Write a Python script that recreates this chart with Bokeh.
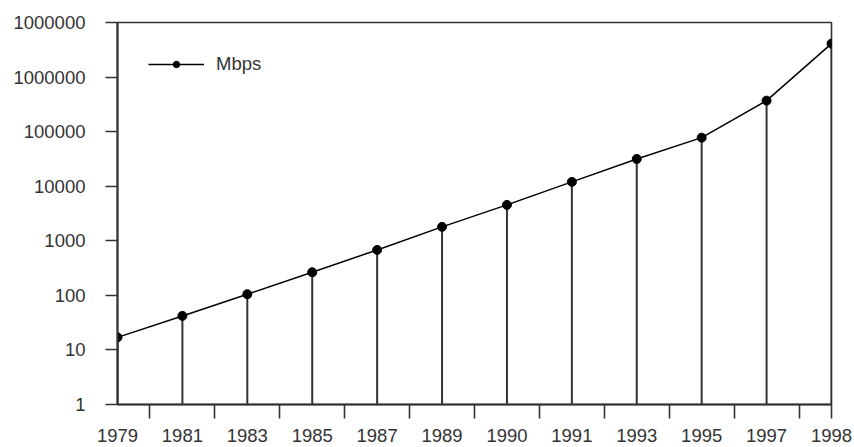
from bokeh.plotting import figure
from bokeh.models import Range1d, FixedTicker, CustomJSTickFormatter, Legend, LegendItem, ColumnDataSource
from bokeh.embed import file_html
from bokeh.resources import INLINE

years = ["1979", "1981", "1983", "1985", "1987", "1989", "1990", "1991", "1993", "1995", "1997", "1998"]
mbps = [17, 42, 105, 265, 680, 1800, 4550, 12000, 31600, 77600, 370000, 4100000]
y_ticks = [1, 10, 100, 1000, 10000, 100000, 1000000, 10000000]
y_tick_labels = ["1", "10", "100", "1000", "10000", "100000", "1000000", "1000000"]

FONT = "Liberation Sans"
FS = "18.5px"
INK = "#333333"

xs = list(range(len(years)))
y_base = y_ticks[0]
src = ColumnDataSource(dict(x=xs, y=mbps, base=[y_base] * len(xs)))

p = figure(width=854, height=447, output_backend="svg", toolbar_location=None,
           y_axis_type="log",
           x_range=Range1d(xs[0], xs[-1]), y_range=Range1d(y_ticks[0], y_ticks[-1]),
           min_border_left=117, min_border_right=23, min_border_top=22, min_border_bottom=43)
p.grid.visible = False
p.background_fill_color = "white"
p.border_fill_color = "white"
p.outline_line_color = INK
p.outline_line_width = 1.6

# drop lines
p.segment(x0="x", y0="base", x1="x", y1="y", source=src, line_color=INK, line_width=2)
ln = p.line(x="x", y="y", source=src, line_color="black", line_width=1.5)
sc = p.scatter(x="x", y="y", source=src, marker="circle", size=9, fill_color="black", line_color="black")

# axes
xa = p.xaxis[0]
minor = [i + 0.5 for i in xs[:-1]] + [xs[-1]]
xa.ticker = FixedTicker(ticks=xs, minor_ticks=minor)
xa.major_label_overrides = {i: lab for i, lab in zip(xs, years)}
xa.major_tick_out = 0
xa.major_tick_in = 0
xa.minor_tick_out = 14
xa.minor_tick_in = 0
xa.minor_tick_line_color = INK
xa.minor_tick_line_width = 1.6
xa.axis_line_color = INK
xa.axis_line_width = 2
xa.major_label_standoff = 10
xa.major_label_text_font = FONT
xa.major_label_text_font_size = FS
xa.major_label_text_color = INK

ya = p.yaxis[0]
ya.ticker = FixedTicker(ticks=y_ticks, minor_ticks=[])
ya.formatter = CustomJSTickFormatter(args=dict(yt=y_ticks, yl=y_tick_labels), code="""
    for (let i = 0; i < yt.length; i++) {
        if (Math.abs(Math.log10(tick) - Math.log10(yt[i])) < 1e-6) return yl[i];
    }
    return "";
""")
ya.major_tick_out = 12
ya.major_tick_in = 0
ya.major_tick_line_color = INK
ya.major_tick_line_width = 1.6
ya.minor_tick_line_color = None
ya.axis_line_color = INK
ya.axis_line_width = 2
ya.major_label_standoff = 20
ya.major_label_text_font = FONT
ya.major_label_text_font_size = FS
ya.major_label_text_color = INK

legend = Legend(items=[LegendItem(label="Mbps", renderers=[ln, sc])],
                location="top_left", margin=31, padding=0,
                glyph_width=56, glyph_height=16, label_standoff=12,
                label_text_font=FONT, label_text_font_size=FS, label_text_color=INK,
                border_line_color=None, background_fill_alpha=0)
p.add_layout(legend)

open("out.html", "w").write(file_html(p, INLINE))
